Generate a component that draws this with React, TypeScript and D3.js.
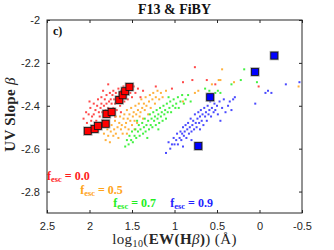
import React, { useEffect, useRef } from 'react';
import * as d3 from 'd3';

// F13 & FiBY: UV slope beta against log10(EW(Hbeta)), panel c)
const xTicks = [2.5, 2, 1.5, 1, 0.5, 0, -0.5];
const yTicks = [-2, -2.2, -2.4, -2.6, -2.8];

type Pt = [number, number];

const redDots: Pt[] = [
  [2.07, -2.46], [2.04, -2.43], [2.03, -2.48], [2.01, -2.44], [1.99, -2.41], [1.98, -2.47], [1.97, -2.45],
  [1.95, -2.39], [1.95, -2.44], [1.93, -2.42], [1.92, -2.47], [1.91, -2.4], [1.9, -2.37], [1.89, -2.43],
  [1.88, -2.45], [1.87, -2.41], [1.86, -2.36], [1.86, -2.39], [1.85, -2.43], [1.84, -2.47], [1.83, -2.4],
  [1.82, -2.37], [1.81, -2.42], [1.8, -2.39], [1.8, -2.35], [1.79, -2.44], [1.78, -2.41], [1.77, -2.38],
  [1.76, -2.34], [1.76, -2.42], [1.75, -2.37], [1.74, -2.39], [1.73, -2.35], [1.72, -2.41], [1.72, -2.33],
  [1.71, -2.37], [1.7, -2.39], [1.69, -2.34], [1.68, -2.36], [1.68, -2.42], [1.67, -2.38], [1.66, -2.32],
  [1.65, -2.36], [1.64, -2.4], [1.63, -2.33], [1.62, -2.37], [1.61, -2.35], [1.6, -2.31], [1.59, -2.38],
  [1.58, -2.35], [1.56, -2.33], [1.55, -2.37], [1.54, -2.3], [1.52, -2.34], [1.5, -2.36], [1.48, -2.31],
  [1.46, -2.34], [1.43, -2.32], [1.4, -2.36], [1.37, -2.33], [1.93, -2.5], [1.7, -2.45], [1.63, -2.43],
  [1.84, -2.33], [1.78, -2.3], [2.0, -2.38],
  [1.22, -2.31], [1.03, -2.32], [0.9, -2.29], [0.79, -2.28], [0.76, -2.22], [0.62, -2.28], [0.52, -2.3],
  [0.01, -2.31],
];

const orangeDots: Pt[] = [
  [1.83, -2.53], [1.81, -2.56], [1.79, -2.51], [1.78, -2.54], [1.76, -2.57], [1.75, -2.52], [1.74, -2.49],
  [1.72, -2.54], [1.71, -2.51], [1.7, -2.47], [1.69, -2.53], [1.67, -2.5], [1.66, -2.55], [1.65, -2.48],
  [1.64, -2.45], [1.63, -2.51], [1.62, -2.49], [1.61, -2.53], [1.6, -2.46], [1.59, -2.44], [1.58, -2.5],
  [1.57, -2.48], [1.56, -2.42], [1.55, -2.46], [1.54, -2.51], [1.53, -2.44], [1.52, -2.47], [1.51, -2.41],
  [1.5, -2.49], [1.49, -2.45], [1.48, -2.43], [1.47, -2.47], [1.46, -2.4], [1.45, -2.44], [1.44, -2.48],
  [1.43, -2.42], [1.42, -2.39], [1.41, -2.45], [1.4, -2.43], [1.39, -2.37], [1.38, -2.41], [1.37, -2.46],
  [1.36, -2.39], [1.35, -2.42], [1.34, -2.36], [1.33, -2.4], [1.31, -2.44], [1.3, -2.38], [1.29, -2.35],
  [1.28, -2.41], [1.26, -2.37], [1.25, -2.34], [1.23, -2.39], [1.22, -2.36], [1.2, -2.33], [1.18, -2.37],
  [1.16, -2.34], [1.14, -2.36], [1.1, -2.33], [1.56, -2.53], [1.47, -2.51], [1.69, -2.45],
  [0.9, -2.38], [0.76, -2.34], [0.72, -2.33], [0.56, -2.3], [0.48, -2.28], [0.46, -2.28], [0.44, -2.23],
  [0.3, -2.29], [-0.46, -2.31],
];

const greenDots: Pt[] = [
  [1.58, -2.59], [1.56, -2.56], [1.54, -2.58], [1.53, -2.54], [1.51, -2.56], [1.5, -2.52], [1.49, -2.57],
  [1.47, -2.54], [1.46, -2.51], [1.45, -2.55], [1.43, -2.52], [1.42, -2.49], [1.41, -2.54], [1.4, -2.51],
  [1.38, -2.48], [1.37, -2.53], [1.36, -2.5], [1.35, -2.46], [1.34, -2.52], [1.33, -2.49], [1.31, -2.47],
  [1.3, -2.51], [1.29, -2.44], [1.28, -2.49], [1.27, -2.46], [1.26, -2.5], [1.25, -2.43], [1.24, -2.47],
  [1.23, -2.45], [1.22, -2.49], [1.21, -2.42], [1.2, -2.46], [1.19, -2.44], [1.18, -2.48], [1.17, -2.41],
  [1.16, -2.45], [1.15, -2.43], [1.14, -2.47], [1.13, -2.4], [1.12, -2.44], [1.11, -2.42], [1.1, -2.46],
  [1.09, -2.39], [1.08, -2.43], [1.06, -2.41], [1.05, -2.38], [1.04, -2.43], [1.02, -2.4], [1.01, -2.37],
  [0.99, -2.41], [0.98, -2.39], [0.96, -2.36], [0.95, -2.41], [0.93, -2.38], [0.91, -2.35], [0.89, -2.39],
  [0.87, -2.37], [0.84, -2.35], [0.81, -2.38], [1.32, -2.55], [1.19, -2.51], [1.44, -2.47], [1.07, -2.36],
  [0.64, -2.32], [0.59, -2.33], [0.52, -2.34], [0.49, -2.33], [0.46, -2.34], [0.33, -2.3], [0.22, -2.28],
  [0.18, -2.23], [0.03, -2.29],
];

const blueDots: Pt[] = [
  [1.1, -2.62], [1.07, -2.57], [1.05, -2.6], [1.03, -2.58], [1.01, -2.55], [1.0, -2.58], [0.98, -2.56],
  [0.97, -2.53], [0.96, -2.58], [0.94, -2.55], [0.93, -2.52], [0.92, -2.56], [0.91, -2.53], [0.9, -2.5],
  [0.89, -2.54], [0.88, -2.52], [0.87, -2.49], [0.86, -2.55], [0.85, -2.51], [0.84, -2.48], [0.83, -2.53],
  [0.82, -2.5], [0.81, -2.46], [0.8, -2.52], [0.79, -2.49], [0.78, -2.47], [0.77, -2.51], [0.76, -2.44],
  [0.75, -2.48], [0.74, -2.5], [0.73, -2.46], [0.72, -2.43], [0.71, -2.48], [0.7, -2.45], [0.69, -2.42],
  [0.68, -2.47], [0.67, -2.44], [0.66, -2.49], [0.65, -2.41], [0.64, -2.45], [0.63, -2.43], [0.62, -2.47],
  [0.61, -2.4], [0.6, -2.44], [0.59, -2.42], [0.58, -2.38], [0.57, -2.45], [0.56, -2.41], [0.54, -2.43],
  [0.53, -2.39], [0.52, -2.42], [0.5, -2.4], [0.49, -2.44], [0.47, -2.38], [0.46, -2.47], [0.44, -2.41],
  [0.42, -2.37], [0.4, -2.43], [0.37, -2.4], [0.35, -2.38], [0.33, -2.42], [0.31, -2.37], [0.29, -2.36],
  [0.9, -2.59], [0.8, -2.56], [0.7, -2.51],
  [0.05, -2.39], [-0.07, -2.34], [-0.1, -2.33], [-0.14, -2.34], [-0.31, -2.3], [-0.47, -2.29],
];

const redSquares: Pt[] = [
  [2.02, -2.518], [1.94, -2.508], [1.9, -2.494], [1.81, -2.484], [1.8, -2.438],
  [1.74, -2.429], [1.65, -2.373], [1.61, -2.351], [1.58, -2.332], [1.53, -2.312],
];

const blueSquares: Pt[] = [
  [-0.174, -2.166], [0.053, -2.242], [0.58, -2.36], [0.72, -2.588],
];

const escLabels = ['0.0', '0.5', '0.7', '0.9'];
const escColors = ['#ff1a1a', '#ffa31a', '#22ee22', '#2222ff'];

export default function App() {
  const svgRef = useRef<SVGSVGElement | null>(null);

  useEffect(() => {
    if (!svgRef.current) return;
    const W = 334, H = 250;
    const margin = { top: 20, right: 32, bottom: 37, left: 47 };
    const width = W - margin.left - margin.right;
    const height = H - margin.top - margin.bottom;

    const root = d3.select(svgRef.current);
    root.selectAll('*').remove();
    root.attr('width', W).attr('height', H);

    const svg = root.append('g').attr('transform', `translate(${margin.left},${margin.top})`);

    const x = d3.scaleLinear().domain([2.5, -0.5]).range([0, width]);
    const y = d3.scaleLinear().domain([-2.9, -2]).range([height, 0]);

    const serif = '"Liberation Serif", "DejaVu Serif", serif';
    const sans = '"Liberation Sans", Arial, sans-serif';
    const axisColor = '#262626';

    // small dots, red drawn first, blue last
    const dotSets: [Pt[], string][] = [
      [redDots, '#ff2a2a'],
      [orangeDots, '#ffa31a'],
      [greenDots, '#22ee22'],
      [blueDots, '#2a2aff'],
    ];
    dotSets.forEach(([pts, col]) => {
      svg.append('g')
        .selectAll('rect')
        .data(pts)
        .enter()
        .append('rect')
        .attr('x', d => x(d[0]) - 1)
        .attr('y', d => y(d[1]) - 1)
        .attr('width', 2)
        .attr('height', 2)
        .attr('fill', col)
        .attr('opacity', 0.85);
    });

    // big squares with grey halo
    const sq = 7;
    const drawSquares = (pts: Pt[], col: string) => {
      const g = svg.append('g');
      g.selectAll('.halo')
        .data(pts)
        .enter()
        .append('rect')
        .attr('x', d => x(d[0]) - sq / 2 - 1.2)
        .attr('y', d => y(d[1]) - sq / 2 - 1.2)
        .attr('width', sq + 2.4)
        .attr('height', sq + 2.4)
        .attr('fill', '#8a8a8a')
        .attr('opacity', 0.7);
      g.selectAll('.sq')
        .data(pts)
        .enter()
        .append('rect')
        .attr('x', d => x(d[0]) - sq / 2)
        .attr('y', d => y(d[1]) - sq / 2)
        .attr('width', sq)
        .attr('height', sq)
        .attr('fill', col)
        .attr('stroke', '#111')
        .attr('stroke-width', 0.8);
    };
    drawSquares(redSquares, '#ff0000');
    drawSquares(blueSquares, '#0000ff');

    // axes box
    svg.append('rect')
      .attr('width', width)
      .attr('height', height)
      .attr('fill', 'none')
      .attr('stroke', axisColor)
      .attr('stroke-width', 1);

    const tickLen = 3;
    const bottom = d3.axisBottom(x).tickValues(xTicks).tickSizeInner(-tickLen).tickSizeOuter(0).tickPadding(9)
      .tickFormat(d => String(d));
    const gx = svg.append('g').attr('transform', `translate(0,${height})`).call(bottom);
    const top = d3.axisTop(x).tickValues(xTicks).tickSizeInner(-tickLen).tickSizeOuter(0).tickFormat(() => '');
    const gxt = svg.append('g').call(top);
    const left = d3.axisLeft(y).tickValues(yTicks).tickSizeInner(-tickLen).tickSizeOuter(0).tickPadding(7)
      .tickFormat(d => String(d));
    const gy = svg.append('g').call(left);
    const right = d3.axisRight(y).tickValues(yTicks).tickSizeInner(-tickLen).tickSizeOuter(0).tickFormat(() => '');
    const gyr = svg.append('g').attr('transform', `translate(${width},0)`).call(right);

    [gx, gxt, gy, gyr].forEach(g => {
      g.select('.domain').remove();
      g.selectAll('.tick line').attr('stroke', axisColor).attr('stroke-width', 1);
      g.selectAll('.tick text')
        .attr('fill', '#262626')
        .attr('font-size', '11px')
        .attr('font-family', sans);
    });

    // panel label
    svg.append('text')
      .attr('x', 6)
      .attr('y', 15)
      .attr('font-family', serif)
      .attr('font-weight', 'bold')
      .attr('font-size', '12px')
      .attr('fill', '#111')
      .text('c)');

    // title
    root.append('text')
      .attr('x', margin.left + width / 2)
      .attr('y', 14)
      .attr('text-anchor', 'middle')
      .attr('font-family', serif)
      .attr('font-weight', 'bold')
      .attr('font-size', '14px')
      .attr('fill', '#111')
      .text('F13 & FiBY');

    // y label
    const yl = root.append('text')
      .attr('transform', `translate(15,${margin.top + height / 2 - 2}) rotate(-90)`)
      .attr('text-anchor', 'middle')
      .attr('font-family', serif)
      .attr('font-size', '15px')
      .attr('letter-spacing', '0.3px')
      .attr('fill', '#262626');
    yl.append('tspan').attr('font-weight', 'bold').text('UV Slope ');
    yl.append('tspan').attr('font-style', 'italic').text('β');

    // x label
    const xl = root.append('text')
      .attr('x', margin.left + width / 2)
      .attr('y', 244)
      .attr('text-anchor', 'middle')
      .attr('font-family', serif)
      .attr('font-size', '15px')
      .attr('letter-spacing', '0.4px')
      .attr('fill', '#262626');
    xl.append('tspan').text('log');
    xl.append('tspan').attr('font-size', '10px').attr('dy', 3).text('10');
    xl.append('tspan').attr('dy', -3).text('(');
    xl.append('tspan').attr('font-weight', 'bold').text('EW(H');
    xl.append('tspan').attr('font-style', 'italic').text('β');
    xl.append('tspan').attr('font-weight', 'bold').text(')');
    xl.append('tspan').text(') (Å)');

    // escape-fraction labels
    const legendPos: Pt[] = [[2.5, -2.744], [2.11, -2.81], [1.72, -2.874], [1.05, -2.874]];
    escLabels.forEach((lab, i) => {
      const t = svg.append('text')
        .attr('x', x(legendPos[i][0]))
        .attr('y', y(legendPos[i][1]))
        .attr('font-family', serif)
        .attr('font-weight', 'bold')
        .attr('font-size', '12px')
        .attr('fill', escColors[i]);
      t.append('tspan').text('f');
      t.append('tspan').attr('font-size', '8.5px').attr('dy', 2).text('esc');
      t.append('tspan').attr('dy', -2).text(` = ${lab}`);
    });
  }, []);

  return (
    <div style={{ position: 'absolute', left: 0, top: 0 }}>
      <svg ref={svgRef} style={{ display: 'block', background: '#fff' }} />
    </div>
  );
}
